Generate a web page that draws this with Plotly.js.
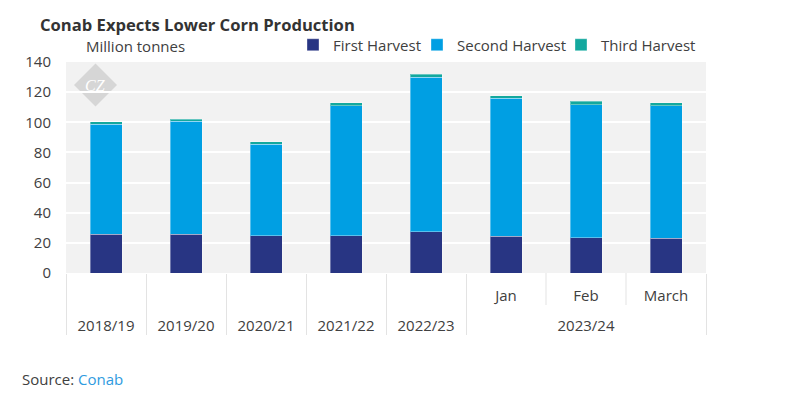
<!DOCTYPE html>
<html>
<head>
<meta charset="utf-8">
<script src="https://cdn.plot.ly/plotly-3.0.1.min.js"></script>
<style>
html,body{margin:0;padding:0;background:#fff;}
#chart{width:785px;height:398px;}
</style>
</head>
<body>
<div id="chart"></div>
<script>
var seasons = ["2018/19","2019/20","2020/21","2021/22","2022/23","2023/24","2023/24","2023/24"];
var months  = [" "," "," "," "," ","Jan","Feb","March"];
var firstHarvest  = [25.6, 25.7, 24.7, 24.8, 27.4, 24.3, 23.5, 23.0];
var secondHarvest = [73.2, 75.1, 60.7, 86.1, 102.4, 91.6, 88.1, 88.1];
var thirdHarvest  = [1.5, 1.3, 1.7, 2.2, 2.1, 1.7, 2.2, 1.7];
var yTicks = [0,20,40,60,80,100,120,140];

// inner labels get an empty second line so the outer row sits lower
var x = [seasons, months.map(function(m){ return m + "<br>\u00a0"; })];
var FONT = "Open Sans, Noto Sans, sans-serif";
var TXT = "#404040";

function bar(name, vals, color, lg){
  return {type:"bar", name:name, x:x, y:vals, legend:lg,
    marker:{color:color, line:{color:"rgba(255,255,255,0.35)", width:1}},
    width:0.4, hoverinfo:"y+name"};
}

var data = [
  bar("First Harvest", firstHarvest, "#283583", "legend"),
  bar("Second Harvest", secondHarvest, "#009FE3", "legend2"),
  bar("Third Harvest", thirdHarvest, "#13A89E", "legend3")
];

function leg(px){
  return {orientation:"h", x:(px-66)/640, xanchor:"left", y:1+(62-45)/211, yanchor:"middle",
    font:{family:FONT, size:15, color:TXT}, bgcolor:"rgba(0,0,0,0)", itemclick:false};
}

var layout = {
  width:785, height:398,
  margin:{l:66, r:79, t:62, b:125},
  paper_bgcolor:"#fff",
  plot_bgcolor:"#f2f2f2",
  barmode:"stack",
  font:{family:FONT, color:TXT, size:15},
  title:{text:"<b>Conab Expects Lower Corn Production</b>", font:{family:FONT, size:16.6, color:"#333333"},
    x:40/785, xanchor:"left", xref:"container", y:1-25/398, yanchor:"middle", yref:"container"},
  showlegend:true,
  legend:leg(293),
  legend2:leg(417),
  legend3:leg(561),
  xaxis:{type:"multicategory", showgrid:false, zeroline:false, showline:false, ticks:"",
    showdividers:true, dividercolor:"#e3e3e3", dividerwidth:1, ticklabelstandoff:12,
    tickfont:{family:FONT, size:15, color:TXT}, fixedrange:true},
  yaxis:{range:[0,140], tickvals:yTicks, ticktext:yTicks.map(String), showgrid:true, gridcolor:"#ffffff", gridwidth:2,
    zeroline:false, showline:false, ticks:"", ticklabelstandoff:14,
    tickfont:{family:FONT, size:15, color:TXT}, fixedrange:true},
  shapes:[
    {type:"line", xref:"paper", yref:"paper", x0:6/8, x1:6/8, y0:0, y1:-32/211, line:{color:"#e3e3e3", width:1}},
    {type:"line", xref:"paper", yref:"paper", x0:7/8, x1:7/8, y0:0, y1:-32/211, line:{color:"#e3e3e3", width:1}},
    {type:"path", xref:"paper", yref:"paper", layer:"below",
      path:"M "+(29.5/640)+" "+(209.5/211)+" L "+(51/640)+" "+(188/211)+" L "+(29.5/640)+" "+(166.5/211)+" L "+(8/640)+" "+(188/211)+" Z",
      fillcolor:"#d6d6d6", line:{width:0}}
  ],
  annotations:[
    {text:"Million tonnes", xref:"paper", yref:"paper", x:(84-66)/640, xanchor:"left", y:1+(62-46)/211, yanchor:"middle",
      showarrow:false, font:{family:FONT, size:15, color:TXT}},
    {text:"<i>C</i><i>Z</i>", xref:"paper", yref:"paper", x:29.5/640, y:188/211, xanchor:"center", yanchor:"middle",
      showarrow:false, font:{family:"Liberation Serif, serif", size:16, color:"#ffffff"}},
    {text:"Source: <span style='color:#2f9be0'>Conab</span>", xref:"paper", yref:"paper",
      x:(20-66)/640, xanchor:"left", y:(273.3-379)/211, yanchor:"middle", showarrow:false,
      font:{family:FONT, size:15, color:TXT}}
  ]
};

Plotly.newPlot("chart", data, layout, {displayModeBar:false, staticPlot:true});
</script>
</body>
</html>
